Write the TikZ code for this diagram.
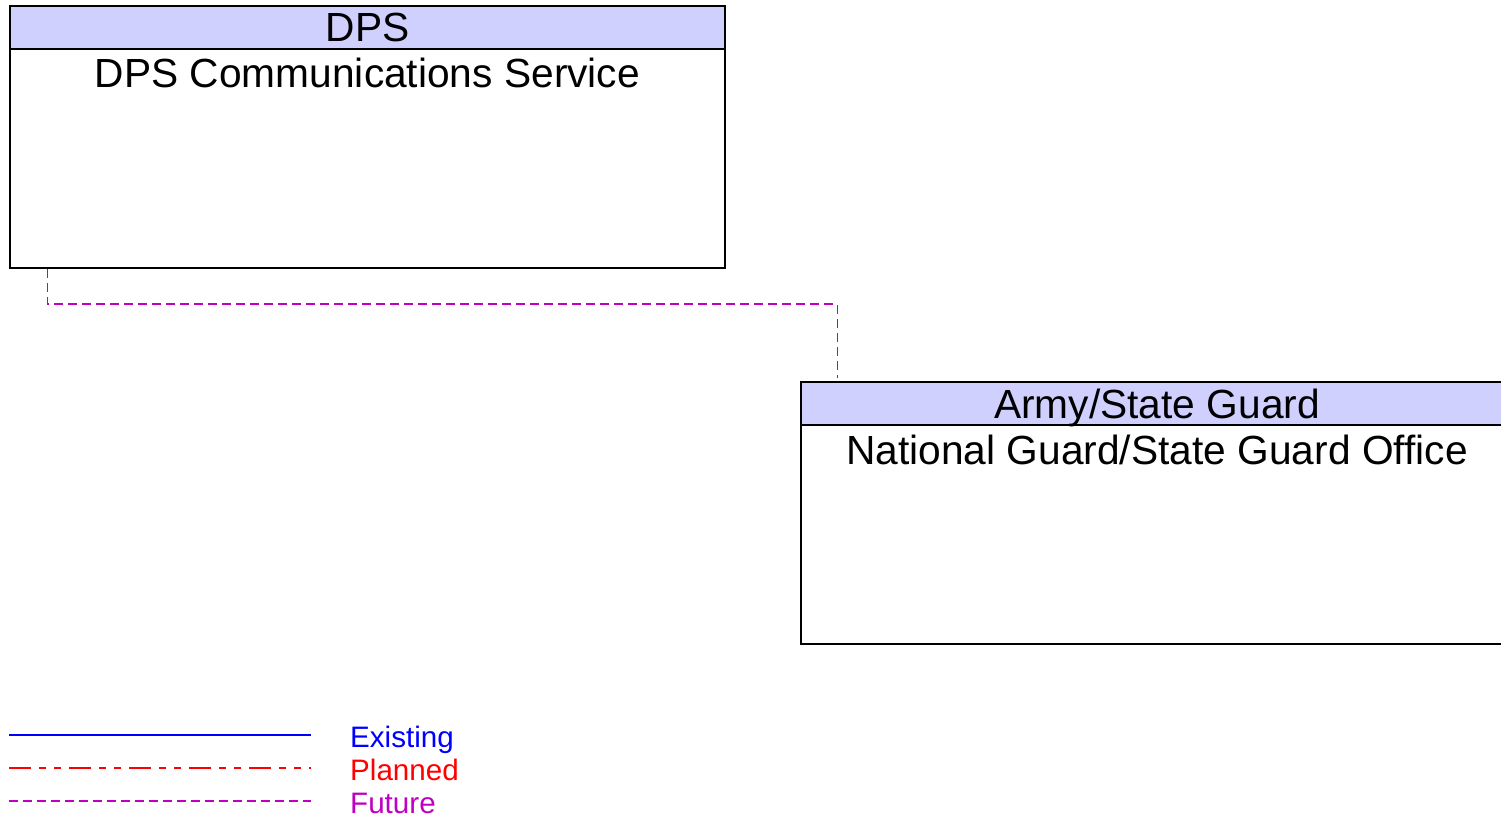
\documentclass[tikz,border=0pt]{standalone}
\usepackage{fontspec}
\setmainfont{Liberation Sans}
\usetikzlibrary{calc}
\definecolor{hdr}{RGB}{208,208,255}
\definecolor{fut}{RGB}{192,0,192}
\tikzset{
  x=1pt, y=-1pt,
  hdrbox/.style={draw=black, line width=1.2pt, fill=hdr, inner sep=0pt, outer sep=0pt},
  bodybox/.style={draw=black, line width=1.2pt, fill=white, inner sep=0pt, outer sep=0pt},
  titletext/.style={font=\fontsize{40.7}{46}\selectfont, anchor=base, inner sep=0pt},
  legtext/.style={font=\fontsize{29.6}{34}\selectfont, anchor=base west, inner sep=0pt},
  futureline/.style={draw=fut, line width=1.6pt, dash pattern=on 9pt off 5pt},
  plannedline/.style={draw=red, line width=1.4pt, dash pattern=on 22pt off 8pt on 7pt off 8pt on 7pt off 8pt},
  existingline/.style={draw=blue, line width=2.2pt},
}
\begin{document}
\begin{tikzpicture}
\useasboundingbox (0,0) rectangle (1501,818);
\clip (0,0) rectangle (1501,818);
\fill[white] (0,0) rectangle (1501,818);
% DPS box
\node[bodybox, minimum width=715pt, minimum height=219pt, anchor=north west] (dpsbody) at (10,49) {};
\node[hdrbox, minimum width=715pt, minimum height=43pt, anchor=north west] (dpshdr) at (10,6) {};
\node[titletext] (dpsname) at (367.5,42) {DPS};
\node[titletext] (dpssub) at (367.5,88) {DPS Communications Service};
% National Guard box
\node[bodybox, minimum width=714pt, minimum height=219pt, anchor=north west] (ngbody) at (801,425) {};
\node[hdrbox, minimum width=714pt, minimum height=43pt, anchor=north west] (nghdr) at (801,382) {};
\node[titletext] (ngname) at (1157,418) {Army/State Guard};
\node[titletext] (ngsub) at (1157,464) {National Guard/State Guard Office};
% connector
\coordinate (ca) at ($(dpsbody.south west)+(37.5,0.8)$);
\coordinate (cb) at ($(nghdr.north west)+(36.5,-4)$);
\coordinate (cm) at (0,304);
\draw[futureline] (ca) -- (ca |- cm) -- (cb |- cm) -- (cb);
% legend
\coordinate (l1a) at (9,735); \coordinate (l1b) at (311,735);
\coordinate (l2a) at (9,768); \coordinate (l2b) at (311,768);
\coordinate (l3a) at (9,801); \coordinate (l3b) at (311,801);
\draw[existingline] (l1a) -- (l1b);
\draw[plannedline] (l2a) -- (l2b);
\draw[futureline] (l3a) -- (l3b);
\node[legtext, text=blue] (lexist) at (350,747) {Existing};
\node[legtext, text=red] (lplan) at (350,780) {Planned};
\node[legtext, text=fut] (lfut) at (350,813) {Future};
\end{tikzpicture}
\end{document}
